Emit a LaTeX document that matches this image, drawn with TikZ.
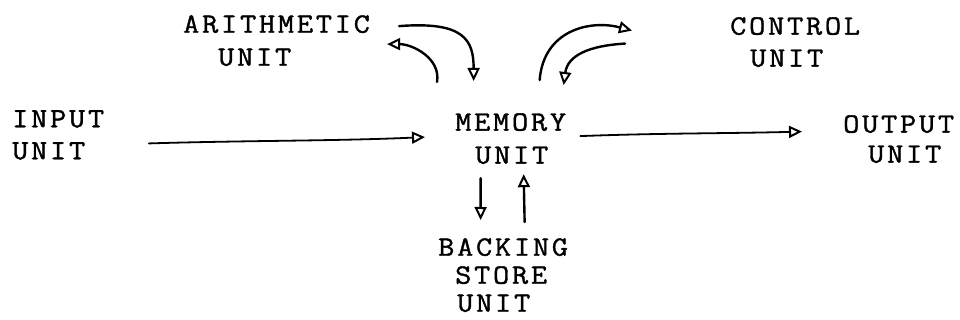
\documentclass[tikz,border=0pt]{standalone}
\usepackage{fontspec}
\newfontfamily\tw{Latin Modern Mono}[FakeStretch=1.12, FakeBold=1.3, LetterSpace=10]
\usetikzlibrary{arrows.meta,calc}
\tikzset{
  unitbox/.style={font={\tw\fontsize{28}{32}\selectfont}, align=left, inner sep=0pt, anchor=north west},
  hand/.style={line width=2.4pt, line cap=round, line join=round,
    -{Triangle[open, length=13pt, width=12pt, line width=2pt]}},
  handthin/.style={hand, line width=1.8pt},
}
\begin{document}
\begin{tikzpicture}[x=1pt,y=-1pt]
\useasboundingbox (0,0) rectangle (960,320);
% units
\node[unitbox] (ari) at (183,15) {ARITHMETIC\\[1pt]\hspace*{35pt}UNIT};
\node[unitbox] (ctl) at (730,17) {CONTROL\\\hspace*{20pt}UNIT};
\node[unitbox] (inp) at (12,110) {INPUT\\UNIT};
\node[unitbox] (mem) at (455,113) {MEMORY\\[1pt]\hspace*{20pt}UNIT};
\node[unitbox] (out) at (843,115) {OUTPUT\\[-2pt]\hspace*{25pt}UNIT};
\node[unitbox] (bak) at (438,238) {BACKING\\[-4pt]\hspace*{17pt}STORE\\[-4pt]\hspace*{19pt}UNIT};
% input -> memory
\draw[handthin] ($(inp.east)+(44.5,8.5)$) .. controls +(100,-3) and +(-90,4) .. ($(mem.west)+(-30,-1.5)$);
% memory -> output
\draw[handthin] ($(mem.east)+(14,-2.5)$) .. controls +(80,-3) and +(-80,2) .. ($(out.west)+(-41,-7.5)$);
% memory -> backing store
\draw[hand] ($(mem.south)+(-30,14)$) -- ($(bak.north)+(-22.5,-18)$);
% backing store -> memory
\draw[hand] ($(bak.north)+(21.5,-16)$) -- ($(mem.south)+(13,10)$);
% arithmetic -> memory
\draw[hand] ($(ari.east)+(29,-14.5)$) .. controls +(65,-5) and +(0,-41) .. ($(mem.north)+(-37,-32)$);
% memory -> arithmetic
\draw[hand] ($(mem.north west)+(-18,-31)$) .. controls +(4,-24) and +(25,0) .. ($(ari.east)+(17,3.5)$);
% memory -> control
\draw[hand] ($(mem.north)+(29,-33)$) .. controls +(4,-50) and +(-42,-11) .. ($(ctl.west)+(-98,-11.5)$);
% control -> memory
\draw[hand] ($(ctl.west)+(-105,1.5)$) .. controls +(-35,2) and +(4,-30) .. ($(mem.north)+(53,-28)$);
\end{tikzpicture}
\end{document}
